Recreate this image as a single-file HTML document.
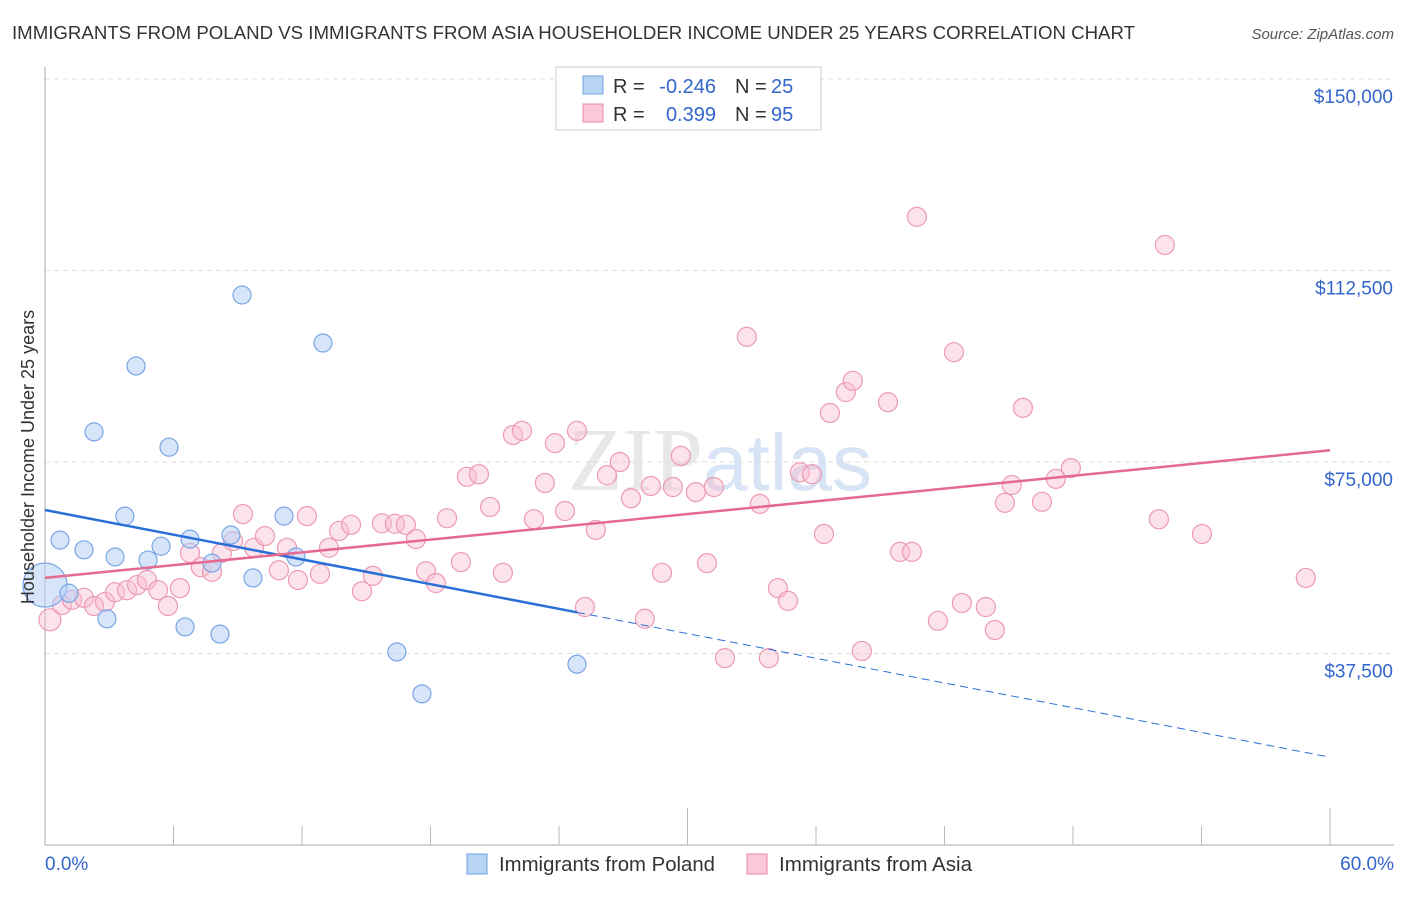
<!DOCTYPE html>
<html><head><meta charset="utf-8"><style>
body{margin:0;background:#fff;font-family:"Liberation Sans",sans-serif}
</style></head><body>
<svg id="c" width="1406" height="892" xmlns="http://www.w3.org/2000/svg" font-family="Liberation Sans, sans-serif">
<text x="12" y="39" font-size="18" fill="#333" textLength="1123" lengthAdjust="spacingAndGlyphs">IMMIGRANTS FROM POLAND VS IMMIGRANTS FROM ASIA HOUSEHOLDER INCOME UNDER 25 YEARS CORRELATION CHART</text>
<text x="1394" y="39" font-size="15" fill="#555" font-style="italic" text-anchor="end">Source: ZipAtlas.com</text>
<text x="720" y="490" font-size="90" fill="#e8e8e8" text-anchor="middle" font-family="Liberation Serif, serif">ZIP<tspan fill="#d6e4f5" font-family="Liberation Sans, sans-serif" font-size="80">atlas</tspan></text>
<g id="grid"></g><g id="axes"></g><g id="pts"></g><g id="lines"></g>
<text transform="translate(34,457) rotate(-90)" font-size="18" fill="#333" text-anchor="middle">Householder Income Under 25 years</text>
<g>
<rect x="556" y="67" width="265" height="63" fill="#fff" stroke="#ccc"/>
<rect x="583" y="76" width="20" height="18" fill="#b8d4f5" stroke="#6f9fe0"/>
<rect x="583" y="104" width="20" height="18" fill="#fac8d6" stroke="#ea8aa6"/>
<text x="613" y="93" font-size="20" fill="#333">R =</text>
<text x="716" y="93" font-size="20" fill="#3366cc" text-anchor="end">-0.246</text>
<text x="735" y="93" font-size="20" fill="#333">N =</text>
<text x="771" y="93" font-size="20" fill="#3366cc">25</text>
<text x="613" y="121" font-size="20" fill="#333">R =</text>
<text x="716" y="121" font-size="20" fill="#3366cc" text-anchor="end">0.399</text>
<text x="735" y="121" font-size="20" fill="#333">N =</text>
<text x="771" y="121" font-size="20" fill="#3366cc">95</text>
</g>
<g>
<rect x="467" y="854" width="20" height="20" fill="#b8d4f5" stroke="#6f9fe0"/>
<text x="499" y="871" font-size="20" fill="#333" textLength="216" lengthAdjust="spacingAndGlyphs">Immigrants from Poland</text>
<rect x="747" y="854" width="20" height="20" fill="#fac8d6" stroke="#ea8aa6"/>
<text x="779" y="871" font-size="20" fill="#333" textLength="193" lengthAdjust="spacingAndGlyphs">Immigrants from Asia</text>
</g>
<text x="45" y="870" font-size="19" fill="#3366cc">0.0%</text>
<text x="1394" y="870" font-size="19" fill="#3366cc" text-anchor="end">60.0%</text>
</svg>
<script>
const yTicks=[37500,75000,112500,150000];
const yTickLabels=["$37,500","$75,000","$112,500","$150,000"];
const polandX=[0,0.7,1.82,1.12,2.29,2.89,3.27,3.73,4.25,4.81,5.42,5.79,6.54,6.77,7.8,8.17,8.68,9.2,9.71,11.16,11.72,12.98,16.43,17.6,24.84];
const polandY=[50900,59700,57800,49300,80900,44300,56400,64400,93800,55800,58500,77900,42700,59900,55200,41300,60700,107700,52300,64400,56400,98300,37800,29600,35400];
const asiaX=[0.23,0.79,1.26,1.82,2.29,2.8,3.27,3.83,4.3,4.76,5.28,5.74,6.3,6.77,7.28,7.8,8.26,8.78,9.24,9.76,10.27,10.92,11.3,11.81,12.23,12.84,13.26,13.73,14.29,14.8,15.31,15.73,16.34,16.85,17.32,17.79,18.25,18.77,19.42,19.7,20.26,20.78,21.38,21.85,22.27,22.83,23.34,23.81,24.28,24.84,25.21,25.72,26.24,26.84,27.36,28.01,28.29,28.81,29.32,29.69,30.39,30.91,31.23,31.75,32.77,33.38,33.8,34.22,34.69,35.25,35.81,36.37,36.65,37.39,37.72,38.14,39.36,39.92,40.48,40.71,41.69,42.44,42.81,43.93,44.35,44.82,45.14,45.66,46.55,47.2,47.9,52.01,52.29,54.02,58.87];
const asiaY=[44100,47000,48000,48400,46800,47600,49500,49900,50900,51900,49900,46800,50300,57200,54400,53500,57200,59500,64800,58200,60500,53800,58200,51900,64400,53100,58200,61500,62700,49700,52700,63000,62900,62700,59900,53600,51300,64000,55400,72100,72600,66200,53300,80300,81100,63800,70900,78700,65400,81100,46600,61700,72400,75000,67900,44300,70300,53300,70100,76200,69100,55200,70100,36600,99500,66800,36600,50300,47800,73000,72600,60900,84600,88700,90900,38000,86700,57400,57400,123000,43900,96500,47400,46600,42100,67000,70500,85600,67200,71700,73800,63800,117500,60900,52300];
const polandTrend=[65600,17200];
const asiaTrend=[52300,77300];
const polandSolidEnd=24.84;

const NS="http://www.w3.org/2000/svg";
const X=p=>45+p/60*1285;
const Y=v=>845-v/37500*191.5;
function mk(t,a,parent){const e=document.createElementNS(NS,t);for(const k in a)e.setAttribute(k,a[k]);document.getElementById(parent).appendChild(e);return e;}
yTicks.forEach((v,i)=>{
 const l=mk('line',{x1:45,x2:1394,y1:Y(v),y2:Y(v),stroke:'#ddd','stroke-dasharray':'5,4'},'grid');
 
 
 const t=mk('text',{x:1393,y:Y(v)+24,'font-size':19,fill:'#3366cc','text-anchor':'end'},'grid');
 t.textContent=yTickLabels[i];
 
 
});
const ax=mk('line',{x1:45,x2:1394,y1:845,y2:845,stroke:'#aaa'},'axes');


const ay=mk('line',{x1:45,x2:45,y1:67,y2:845,stroke:'#aaa'},'axes');


for(let i=1;i<=10;i++){
 const tk=mk('line',{x1:X(i*6),x2:X(i*6),y1:(i%5==0)?808:826,y2:845,stroke:'#bbb'},'axes');
 
 
}
asiaX.forEach((p,i)=>{
 const c=mk('circle',{cx:X(p),cy:Y(asiaY[i]),r:i==0?11:9.5,fill:'rgba(248,190,208,0.45)',stroke:'#ec9ab4','stroke-width':1.2},'pts');
 
 
});
polandX.forEach((p,i)=>{
 const c=mk('circle',{cx:X(p),cy:Y(polandY[i]),r:i==0?22:9,fill:'rgba(180,208,245,0.55)',stroke:'#7aa6e4','stroke-width':1.2},'pts');
 
 
});
const pv=p=>polandTrend[0]+(polandTrend[1]-polandTrend[0])*p/60;
const l1=mk('line',{x1:X(0),y1:Y(pv(0)),x2:X(polandSolidEnd),y2:Y(pv(polandSolidEnd)),stroke:'#2a6fd6','stroke-width':2.5},'lines');


const l2=mk('line',{x1:X(polandSolidEnd),y1:Y(pv(polandSolidEnd)),x2:X(60),y2:Y(pv(60)),stroke:'#2a6fd6','stroke-width':1,'stroke-dasharray':'8,5'},'lines');


const l3=mk('line',{x1:X(0),y1:Y(asiaTrend[0]),x2:X(60),y2:Y(asiaTrend[1]),stroke:'#e56a93','stroke-width':2.5},'lines');


</script>
</body></html>
